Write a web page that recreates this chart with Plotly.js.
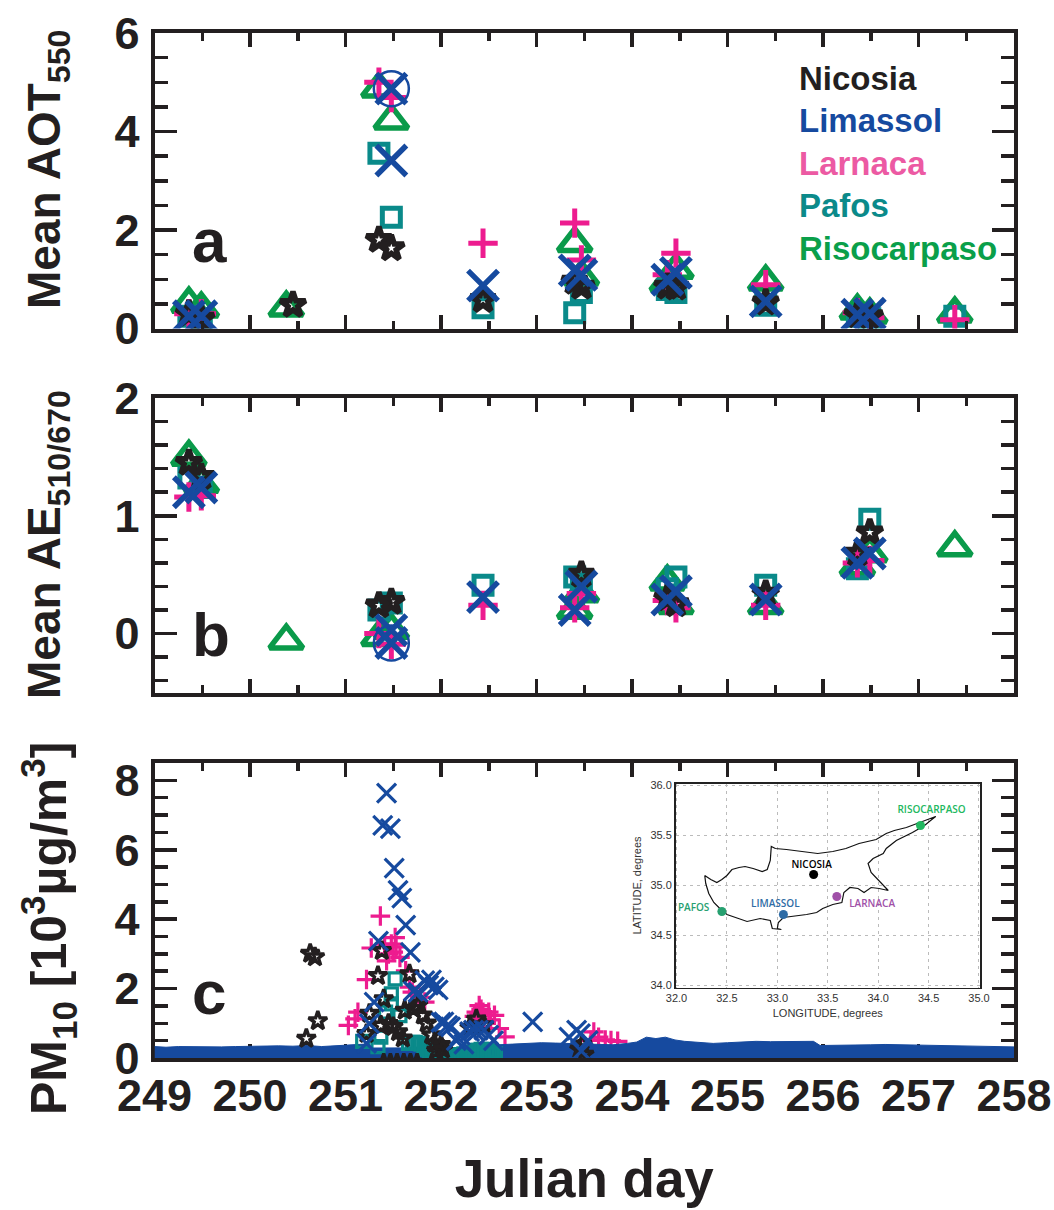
<!DOCTYPE html>
<html>
<head>
<meta charset="utf-8">
<script src="https://cdn.plot.ly/plotly-3.0.1.min.js"></script>
<style>html,body{margin:0;padding:0;background:#fff}#chart{width:1054px;height:1210px}</style>
</head>
<body>
<div id="chart"></div>
<script>
var siteNames = ['Nicosia','Limassol','Larnaca','Pafos','Risocarpaso'];

// Panel a: mean AOT550
var aNicosiaDay  = [249.36,249.49,250.45,251.35,251.48,252.44,253.40,253.47,254.37,254.46,255.40,256.36,256.49];
var aNicosia     = [0.30,0.20,0.48,1.80,1.63,0.58,0.95,0.85,0.85,0.83,0.53,0.27,0.25];
var aLimassolDay = [249.36,249.49,251.48,251.48,252.44,253.40,253.47,254.37,254.46,255.40,256.36,256.49];
var aLimassol    = [0.25,0.25,4.87,3.41,0.87,1.18,1.09,0.99,1.13,0.55,0.28,0.30];
var aLarnacaDay  = [249.36,249.49,251.35,251.48,252.44,253.40,253.47,254.37,254.46,255.40,256.36,256.49,257.38];
var aLarnaca     = [0.30,0.30,5.00,4.69,1.73,2.14,1.39,1.09,1.53,0.89,0.32,0.22,0.18];
var aPafosDay    = [249.36,249.49,251.35,251.48,252.44,253.40,253.47,254.37,254.46,255.40,256.36,256.49,257.38];
var aPafos       = [0.25,0.20,3.56,2.26,0.42,0.32,0.73,0.79,0.73,0.47,0.25,0.20,0.25];
var aRisoDay     = [249.36,249.49,250.38,251.35,251.48,253.40,253.47,254.37,254.46,255.40,256.36,256.49,257.38];
var aRiso        = [0.50,0.40,0.42,4.87,4.22,1.73,1.05,0.93,1.19,0.95,0.36,0.28,0.30];

// Panel b: mean AE 510/670
var bNicosiaDay  = [249.36,249.49,251.35,251.48,253.47,254.37,254.46,255.40,256.36,256.49];
var bNicosia     = [1.45,1.33,0.24,0.27,0.50,0.30,0.25,0.34,0.68,0.86];
var bLimassolDay = [249.36,249.49,251.48,251.48,252.44,253.40,253.47,254.37,254.46,255.40,256.36,256.49];
var bLimassol    = [1.20,1.24,0.03,-0.08,0.31,0.20,0.40,0.29,0.36,0.29,0.60,0.68];
var bLarnacaDay  = [249.36,249.49,251.35,251.48,252.44,253.40,253.47,254.37,254.46,255.40,256.36,256.49];
var bLarnaca     = [1.16,1.17,0.00,-0.09,0.24,0.22,0.34,0.28,0.22,0.24,0.60,0.62];
var bPafosDay    = [249.36,249.49,251.35,251.48,252.44,253.40,253.47,254.37,254.46,255.40,256.36,256.49];
var bPafos       = [1.32,1.24,0.20,0.26,0.41,0.48,0.42,0.38,0.48,0.41,0.55,0.97];
var bRisoDay     = [249.36,249.49,250.38,251.35,251.48,253.40,253.47,254.37,254.46,255.40,256.36,256.49,257.38];
var bRiso        = [1.50,1.27,-0.06,-0.03,0.03,0.20,0.34,0.44,0.24,0.24,0.57,0.68,0.73];

// Highlighted extreme dust observation (circled in a and b)
var circleDay = [251.48];
var circleA   = [4.87];
var circleB   = [-0.08];

// Panel c: PM10
var cLimassolDay = [251.43,251.39,251.47,251.51,251.55,251.59,251.63,251.345,251.68,251.83,251.87,251.90,251.93,251.97,251.76,251.71,251.30,251.25,251.22,252.00,252.03,252.07,252.10,252.16,252.20,252.24,252.30,252.34,252.39,252.45,252.50,252.55,252.96,253.42,253.46,253.34,253.54,253.47];
var cLimassol    = [7.63,6.70,6.61,5.47,4.83,4.61,3.83,3.37,3.04,2.23,2.10,2.25,2.05,1.96,1.89,1.93,1.61,0.99,0.42,1.03,1.04,0.94,0.90,0.50,0.66,0.40,0.76,0.80,0.80,0.80,0.66,0.50,1.04,0.80,0.70,0.60,0.50,0.20];
var cLarnacaDay  = [251.365,251.52,251.48,251.41,251.22,251.27,251.43,251.63,251.67,251.13,251.10,251.03,251.83,251.45,251.50,251.53,251.57,251.70,251.78,252.40,252.37,252.44,252.56,252.50,252.61,252.67,252.45,252.35,252.40,252.42,252.52,253.57,253.60,253.65,253.72,253.78,253.85];
var cLarnaca     = [4.09,3.47,3.28,3.28,2.26,3.17,2.80,2.51,2.04,1.32,1.13,0.94,1.61,3.00,3.05,3.20,2.90,1.90,1.75,1.51,1.32,1.32,1.23,1.32,0.85,0.61,1.10,1.20,1.25,1.40,1.10,0.51,0.75,0.60,0.52,0.50,0.48];
var cNicosiaDay  = [250.63,250.68,250.71,250.59,251.38,251.34,251.40,251.25,251.22,251.67,251.62,251.71,251.76,251.81,251.85,251.90,251.93,251.45,251.50,251.55,251.60,251.37,252.00,252.37,252.45,252.30,253.48,253.45,253.50,251.40,251.47,251.54,251.61,251.68,251.75,251.95,252.02];
var cNicosia     = [3.01,2.91,1.07,0.56,3.09,2.37,1.70,1.28,0.70,2.42,1.37,1.42,1.52,1.23,1.00,0.66,0.42,0.99,0.90,0.75,0.57,0.94,0.38,1.12,0.95,0.88,0.40,0.25,0.10,-0.15,-0.15,-0.15,-0.15,-0.15,-0.15,0.22,0.25];
var cPafosDay    = [251.52,251.48,251.48,251.57,251.42,251.37,251.34,251.18,251.66,251.70,251.73,251.76,251.79,251.82,251.85,251.88,251.91,251.94,251.97,252.00,252.03,252.06,252.09,252.12,252.15,252.18,252.21,252.24,252.27,252.30,252.33,252.36,252.39,252.42,252.45,252.48,252.51,252.54,252.57];
var cPafos       = [2.28,1.85,1.56,1.22,1.32,0.60,0.33,0.48,0.42,0.45,0.45,0.42,0.40,0.32,0.24,0.20,0.16,0.12,0.10,0.08,0.08,0.08,0.08,0.08,0.08,0.10,0.10,0.12,0.12,0.15,0.18,0.22,0.22,0.25,0.25,0.22,0.20,0.18,0.12];
// Dense hourly background of the Limassol record, read as its upper envelope
var bandDay = [249,249.12,249.25,249.4,249.55,249.7,249.85,250,250.15,250.3,250.45,250.6,250.75,250.9,251.05,251.2,251.28,null,252.52,252.6,252.75,252.9,253.05,253.2,253.35,253.5,253.65,253.8,253.95,254.05,254.15,254.25,254.35,254.45,254.55,254.7,254.85,255,255.15,255.3,255.45,255.6,255.75,255.9,255.97,256.05,256.2,256.35,256.5,256.65,256.8,256.95,257.1,257.25,257.4,257.55,257.7,257.85,258];
var bandVal = [0.33,0.31,0.33,0.32,0.31,0.32,0.33,0.34,0.33,0.35,0.34,0.36,0.33,0.36,0.38,0.40,0.30,null,0.32,0.38,0.40,0.42,0.44,0.43,0.42,0.40,0.38,0.38,0.42,0.46,0.60,0.56,0.60,0.52,0.48,0.46,0.42,0.44,0.46,0.48,0.47,0.48,0.47,0.48,0.36,0.36,0.38,0.37,0.38,0.39,0.38,0.37,0.38,0.36,0.36,0.35,0.33,0.32,0.32];

// Inset map: Cyprus coastline and the stations
var coastLon = [32.28,32.34,32.40,32.45,32.50,32.55,32.62,32.68,32.76,32.85,32.90,32.93,32.94,32.98,33.09,33.26,33.40,33.55,33.68,33.81,33.98,34.08,34.16,34.28,34.39,34.51,34.57,34.52,34.46,34.34,34.18,34.08,34.05,33.95,33.90,33.93,33.98,34.03,34.10,34.01,33.93,33.86,33.80,33.72,33.66,33.64,33.55,33.45,33.39,33.29,33.19,33.06,33.01,33.00,33.04,32.95,32.93,32.83,32.70,32.58,32.50,32.43,32.37,32.32,32.29,32.28];
var coastLat = [35.10,35.06,35.03,35.06,35.10,35.16,35.18,35.19,35.17,35.14,35.16,35.25,35.39,35.37,35.36,35.34,35.32,35.34,35.37,35.42,35.46,35.52,35.55,35.58,35.62,35.67,35.69,35.65,35.60,35.53,35.45,35.37,35.32,35.27,35.22,35.13,35.08,35.02,34.95,34.97,34.98,34.93,34.97,34.98,34.93,34.83,34.81,34.77,34.73,34.71,34.70,34.68,34.63,34.57,34.56,34.57,34.65,34.67,34.64,34.68,34.71,34.77,34.83,34.92,35.02,35.10];
var stationLon = [33.36,33.06,33.59,32.45,34.42];
var stationLat = [35.11,34.71,34.89,34.74,35.60];
var stationColor = ['#000000','#2f6ca5','#a050a8','#27a070','#22b860'];
var mapLabel = ['NICOSIA','LIMASSOL','LARNACA','PAFOS','RISOCARPASO'];
var mapLabelLon = [33.34,32.98,33.94,32.17,34.53];
var mapLabelLat = [35.20,34.81,34.81,34.77,35.75];

var ink = '#231f20', cNic = '#231f20', cLim = '#164a9f', cLar = '#ed1c8f', cPaf = '#0a8a8a', cRis = '#0a9a4a';
var FONT = 'Liberation Sans, Arial, sans-serif';
var W = 1054, H = 1210;
function fx(p){return p/W;}
function fy(p){return 1-p/H;}

function tr(xa, ya, x, y, sym, size, lw, col, name){
  return {type:'scatter', mode:'markers', xaxis:xa, yaxis:ya, x:x, y:y, name:name, showlegend:false, hoverinfo:'x+y+name',
    marker:{symbol:sym, size:size, color:col, line:{color:col, width:lw}}};
}
var S = {x:['x-thin-open',30,5.5], p:['cross-thin-open',21,5], st:['star-open',19,5.5], sq:['square-open',18,5], t:['triangle-up-open',29,5.5]};
var Sc = {x:['x-thin-open',19,3.2], p:['cross-thin-open',14,3.2], st:['star-open',14,3.4], sq:['square-open',12,3.2]};
function big(xa,ya,x,y,k,col,name){return tr(xa,ya,x,y,S[k][0],S[k][1],S[k][2],col,name);}
function small(xa,ya,x,y,k,col,name){return tr(xa,ya,x,y,Sc[k][0],Sc[k][1],Sc[k][2],col,name);}

var data = [
  big('x','y',aRisoDay,aRiso,'t',cRis,siteNames[4]),
  big('x','y',aPafosDay,aPafos,'sq',cPaf,siteNames[3]),
  big('x','y',aLarnacaDay,aLarnaca,'p',cLar,siteNames[2]),
  big('x','y',aNicosiaDay,aNicosia,'st',cNic,siteNames[0]),
  big('x','y',aLimassolDay,aLimassol,'x',cLim,siteNames[1]),
  tr('x','y',circleDay,circleA,'circle-open',35,2.5,cLim,'Limassol peak'),

  big('x2','y2',bRisoDay,bRiso,'t',cRis,siteNames[4]),
  big('x2','y2',bPafosDay,bPafos,'sq',cPaf,siteNames[3]),
  big('x2','y2',bLarnacaDay,bLarnaca,'p',cLar,siteNames[2]),
  big('x2','y2',bNicosiaDay,bNicosia,'st',cNic,siteNames[0]),
  big('x2','y2',bLimassolDay,bLimassol,'x',cLim,siteNames[1]),
  tr('x2','y2',circleDay,circleB,'circle-open',35,2.5,cLim,'Limassol peak'),

  small('x3','y3',cLarnacaDay,cLarnaca,'p',cLar,siteNames[2]),
  {type:'scatter',mode:'lines',xaxis:'x3',yaxis:'y3',x:bandDay,y:bandVal,name:'Limassol',showlegend:false,
    fill:'tozeroy',fillcolor:cLim,line:{color:cLim,width:1},connectgaps:false,hoverinfo:'skip'},
  small('x3','y3',cPafosDay,cPafos,'sq',cPaf,siteNames[3]),
  small('x3','y3',cNicosiaDay,cNicosia,'st',cNic,siteNames[0]),
  small('x3','y3',cLimassolDay,cLimassol,'x',cLim,siteNames[1]),

  {type:'scatter',mode:'lines',xaxis:'x4',yaxis:'y4',x:coastLon,y:coastLat,name:'Cyprus coast',showlegend:false,
    line:{color:'#111',width:1.2},hoverinfo:'skip'},
  {type:'scatter',mode:'markers',xaxis:'x4',yaxis:'y4',x:stationLon,y:stationLat,name:'Stations',showlegend:false,
    marker:{size:9,color:stationColor},hoverinfo:'skip'},
  {type:'scatter',mode:'text',xaxis:'x4',yaxis:'y4',x:mapLabelLon,y:mapLabelLat,text:mapLabel,showlegend:false,
    textposition:'middle center',hoverinfo:'skip',
    textfont:{family:'Open Sans, sans-serif',size:10,weight:600,color:stationColor.map(function(c,i){return i===0?'#000':c;})}}
];

var tickFont = {family:FONT,size:45,weight:700,color:ink};
function xAxis(anchor, labels){
  var a = {domain:[fx(154.5),fx(1014)], range:[249,258], anchor:anchor, tick0:249, dtick:1, ticks:'inside', ticklen:14, tickwidth:3.5,
    tickcolor:ink, showline:true, linecolor:ink, linewidth:4, mirror:'ticks', zeroline:false, showgrid:false,
    minor:{dtick:0.5, tick0:249, ticks:'inside', ticklen:8, tickwidth:3.5, tickcolor:ink, showgrid:false},
    showticklabels:labels};
  if(labels){a.tickfont=tickFont;a.tickformat='d';}
  return a;
}
function yAxis(anchor, top, bottom, range, dtick, minorD){
  return {domain:[fy(bottom),fy(top)], range:range, anchor:anchor, tick0:0, dtick:dtick, ticks:'inside', ticklen:22, tickwidth:3.5,
    tickcolor:ink, showline:true, linecolor:ink, linewidth:4, mirror:'ticks', zeroline:false, showgrid:false,
    minor:{dtick:minorD, tick0:0, ticks:'inside', ticklen:13, tickwidth:3.5, tickcolor:ink, showgrid:false},
    tickfont:tickFont, ticklabelstandoff:2};
}
var xa3 = xAxis('y3',true);
xa3.layer='below traces';
xa3.title={text:'Julian day',font:{family:FONT,size:53,weight:700,color:ink},standoff:41};
xa3.ticklabelstandoff=-5;
var ya3 = yAxis('x3',763,1058,[0,8.5],2,0.5);
ya3.layer='below traces';

function ann(text,xp,yp,size,color,anchor,angle){
  return {text:text,xref:'paper',yref:'paper',x:fx(xp),y:fy(yp),xanchor:anchor||'left',yanchor:'middle',showarrow:false,
    textangle:angle||0,font:{family:FONT,size:size,weight:700,color:color}};
}
var mapFont = {family:FONT,size:11,color:'#333'};
var layout = {
  width:W,height:H,margin:{l:0,r:0,t:0,b:0},paper_bgcolor:'#fff',plot_bgcolor:'#fff',showlegend:false,
  xaxis:xAxis('y',false),
  xaxis2:xAxis('y2',false),
  xaxis3:xa3,
  yaxis:yAxis('x',33,328.5,[0,6],2,0.5),
  yaxis2:yAxis('x2',398,692.5,[-0.5,2],1,0.2),
  yaxis3:ya3,
  xaxis4:{domain:[fx(675.5),fx(980)],range:[31.99,35.01],anchor:'y4',dtick:0.5,tick0:32,tickformat:'.1f',showline:true,mirror:true,linecolor:'#222',linewidth:1.5,
    showgrid:true,gridcolor:'#bbb',griddash:'3px,4px',gridwidth:1,zeroline:false,tickfont:mapFont,ticks:'',
    title:{text:'LONGITUDE, degrees',font:{family:FONT,size:11,color:'#333'},standoff:6}},
  yaxis4:{domain:[fy(987.5),fy(783.5)],range:[33.98,36.02],anchor:'x4',dtick:0.5,tick0:34,tickformat:'.1f',showline:true,mirror:true,linecolor:'#222',linewidth:1.5,
    showgrid:true,gridcolor:'#bbb',griddash:'3px,4px',gridwidth:1,zeroline:false,tickfont:mapFont,ticks:'',
    title:{text:'LATITUDE, degrees',font:{family:FONT,size:11,color:'#333'},standoff:6}},
  annotations:[
    ann('Nicosia',797,78,33,'#231f20'),
    ann('Limassol',797,120,33,'#164a9f'),
    ann('Larnaca',797,163,33,'#ec5aa3'),
    ann('Pafos',797,205,33,'#0b8a8a'),
    ann('Risocarpaso',797,248,33,'#0a9f4a'),
    ann('a',190,241,62,ink),
    ann('b',190,634,62,ink),
    ann('c',190,992,62,ink),
    ann('Mean AOT<sub>550</sub>',48,170,46,ink,'center',-90),
    ann('Mean AE<sub>510/670</sub>',48,545,46,ink,'center',-90),
    ann('PM<sub>10</sub> [10<sup>3</sup>µg/m<sup>3</sup>]',48,929,50,ink,'center',-90)
  ]
};
Plotly.newPlot('chart',data,layout,{displayModeBar:false,staticPlot:true});
</script>
</body>
</html>
